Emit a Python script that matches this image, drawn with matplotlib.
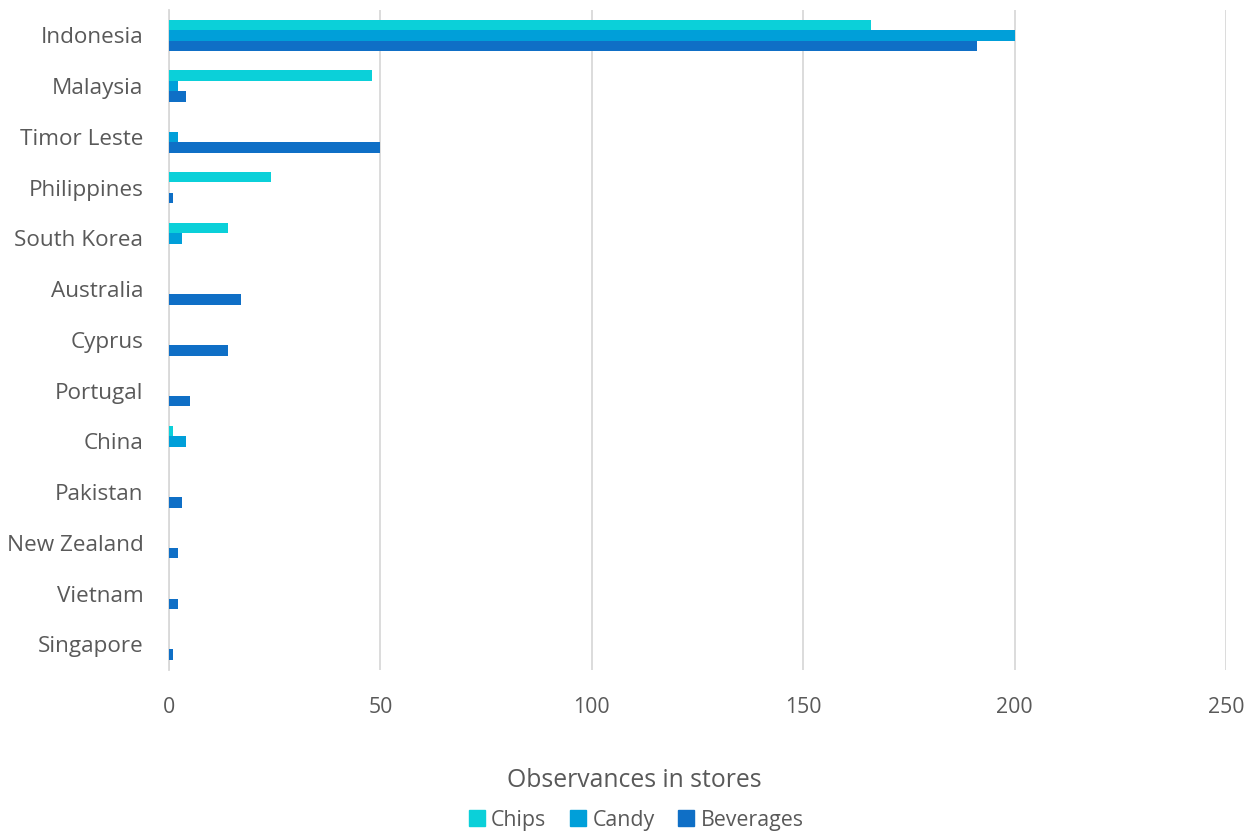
import numpy as np
import matplotlib.pyplot as plt
from matplotlib.patches import Patch

countries = ["Indonesia", "Malaysia", "Timor Leste", "Philippines", "South Korea",
             "Australia", "Cyprus", "Portugal", "China", "Pakistan",
             "New Zealand", "Vietnam", "Singapore"]
chips = [166, 48, 0, 24, 14, 0, 0, 0, 1, 0, 0, 0, 0]
candy = [200, 2, 2, 0, 3, 0, 0, 0, 4, 0, 0, 0, 0]
beverages = [191, 4, 50, 1, 0, 17, 14, 5, 0, 3, 2, 2, 1]

series = [("Chips", chips, "#0BD0D9"),
          ("Candy", candy, "#009FD9"),
          ("Beverages", beverages, "#0F6FC6")]

plt.rcParams['font.family'] = ['Open Sans', 'DejaVu Sans']
text_col = "#595959"

fig = plt.figure(figsize=(12.57, 8.36), dpi=100)
ax = fig.add_axes([0.1345, 0.199, 0.8408, 0.789])

n = len(countries)
ypos = np.arange(n)[::-1]
h = 0.206
for i, (name, vals, col) in enumerate(series):
    ax.barh(ypos + (1 - i) * h, vals, height=h, color=col, label=name,
            linewidth=0, zorder=3)

ax.set_xlim(0, 250)
ax.set_ylim(-0.5, n - 0.5)
ax.set_xticks(range(0, 251, 50))
ax.set_yticks(ypos)
ax.set_yticklabels(countries)
ax.grid(axis="x", color="#D9D9D9", linewidth=1.3, zorder=0)
for s in ["top", "right", "bottom"]:
    ax.spines[s].set_visible(False)
ax.spines["left"].set_color("#D9D9D9")
ax.spines["left"].set_linewidth(1.3)
ax.tick_params(length=0, colors=text_col)
ax.tick_params(axis="x", pad=20, labelsize=15.3)
ax.tick_params(axis="y", pad=18.5, labelsize=16.2)

fig.text(0.505, 0.066, "Observances in stores", ha="center", va="center",
         fontsize=17.8, color=text_col)

handles = [Patch(color=c, label=nm) for nm, _, c in series]
fig.legend(handles=handles, loc="center", bbox_to_anchor=(0.506, 0.019), ncol=3,
           frameon=False, fontsize=15.4, labelcolor=text_col, handlelength=0.75,
           handleheight=0.75, handletextpad=0.3, columnspacing=1.1)

fig.savefig("out.png", dpi=100)
